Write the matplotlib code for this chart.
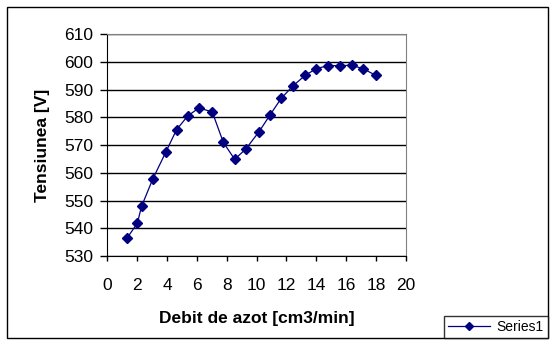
import matplotlib
matplotlib.use("Agg")
import matplotlib.pyplot as plt
from matplotlib.patches import Rectangle

plt.rcParams['font.family'] = ['Liberation Sans', 'DejaVu Sans']

# debit (cm3/min) vs tensiune (V)
debit = [1.34, 2.01, 2.30, 3.04, 3.91, 4.64, 5.40, 6.14, 7.03, 7.77, 8.53, 9.26,
         10.16, 10.89, 11.65, 12.46, 13.26, 14.0, 14.78, 15.58, 16.36, 17.14, 17.97]
tensiune = [536.6, 541.8, 548.0, 557.7, 567.4, 575.6, 580.6, 583.4, 582.0, 571.0,
            564.9, 568.5, 574.8, 580.8, 586.9, 591.5, 595.2, 597.6, 598.7, 598.7,
            598.8, 597.6, 595.2]

navy = '#000080'

fig = plt.figure(figsize=(5.56, 3.51), dpi=100)
ax = fig.add_axes([0.193, 0.2707, 0.537, 0.6316])

ax.plot(debit, tensiune, color=navy, lw=0.9, marker='D', ms=5.5,
        mfc=navy, mec=navy, label='Series1')

ax.set_xlim(0, 20)
ax.set_ylim(530, 610)
ax.set_xticks(range(0, 21, 2))
ax.set_yticks(range(530, 611, 10))
ax.yaxis.grid(True, color='black', lw=1)
ax.set_axisbelow(True)

for s in ['top', 'right']:
    ax.spines[s].set_color('#808080')
for s in ['left', 'bottom']:
    ax.spines[s].set_color('black')
ax.tick_params(direction='out', width=1, labelsize=12.5)
ax.tick_params(axis='y', length=5, pad=5)
ax.tick_params(axis='x', length=3.5, pad=12)

ax.set_xlabel('Debit de azot [cm3/min]', fontsize=12.5, fontweight='bold', labelpad=13)
ax.set_ylabel('Tensiunea [V]', fontsize=12.5, fontweight='bold', labelpad=10)

fig.patches.append(Rectangle((0.0126, 0.037), 0.973, 0.943, transform=fig.transFigure,
                             fill=False, ec='black', lw=1))

leg = fig.legend(loc='lower right', bbox_to_anchor=(0.9856, 0.037), fontsize=10,
                 frameon=True, fancybox=False, borderaxespad=0, handlelength=3.0,
                 borderpad=0.3, handletextpad=0.5, markerscale=0.8)
leg.get_frame().set_edgecolor('black')
leg.get_frame().set_linewidth(1)

fig.savefig('out.png', dpi=100)
